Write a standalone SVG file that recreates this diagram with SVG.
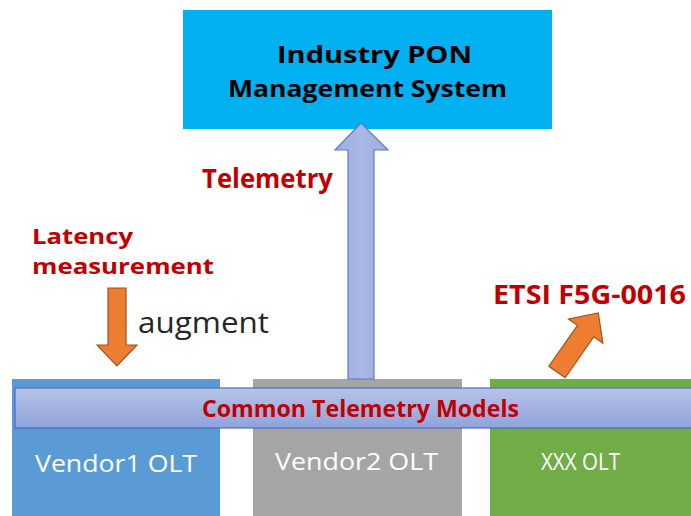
<svg xmlns="http://www.w3.org/2000/svg" width="691" height="516" viewBox="0 0 691 516">
<defs>
<linearGradient id="bandG" x1="0" y1="0" x2="0" y2="1">
<stop offset="0" stop-color="#B7C3E8"/>
<stop offset="1" stop-color="#8FA3DB"/>
</linearGradient>
<linearGradient id="arrG" x1="0" y1="0" x2="1" y2="0">
<stop offset="0" stop-color="#9FB0E0"/>
<stop offset="0.5" stop-color="#A9B8E4"/>
<stop offset="1" stop-color="#9CAEDF"/>
</linearGradient>
</defs>
<style>
.red{font-family:"Open Sans","Noto Sans","Liberation Sans",sans-serif;font-weight:bold;fill:#C00000}
.olt{font-family:"Open Sans","Noto Sans","Liberation Sans",sans-serif;fill:#FFFFFF;font-size:24px}
.ttl{font-family:"Open Sans","Noto Sans","Liberation Sans",sans-serif;font-weight:bold;font-size:24px;fill:#000000}
.orange{fill:#ED7D31;stroke:#9E531F;stroke-width:1.2}
</style>
<rect width="691" height="516" fill="#FFFFFF"/>
<g id="ipms">
<rect x="183" y="10" width="369" height="119" fill="#00B0F0"/>
<text class="ttl" x="277" y="63" textLength="195" lengthAdjust="spacingAndGlyphs">Industry PON</text>
<text class="ttl" x="228" y="97" textLength="279" lengthAdjust="spacingAndGlyphs">Management System</text>
</g>
<g id="vendor1">
<rect x="12" y="379" width="208" height="137" fill="#5B9BD5"/>
<text class="olt" x="35" y="472" textLength="162" lengthAdjust="spacingAndGlyphs">Vendor1 OLT</text>
</g>
<g id="vendor2">
<rect x="253" y="379" width="209" height="137" fill="#A5A5A5"/>
<text class="olt" x="275" y="470" textLength="163" lengthAdjust="spacingAndGlyphs">Vendor2 OLT</text>
</g>
<g id="xxx">
<rect x="490" y="379" width="201" height="137" fill="#70AD47"/>
<text class="olt" x="541" y="470" textLength="79" lengthAdjust="spacingAndGlyphs">XXX OLT</text>
</g>
<g id="connectors">
<path d="M348,379 L348,150 L335,150 L361,123 L388,150 L374,150 L374,379 Z" fill="url(#arrG)" stroke="#5A7BC8" stroke-width="1.2"/>
<path class="orange" d="M108,288 L126,288 L126,345 L137,345 L117,366 L97,345 L108,345 Z"/>
<g transform="translate(557,372) rotate(-55)">
<path class="orange" d="M0,-10 L50,-10 L50,-21 L72,0 L50,21 L50,10 L0,10 Z"/>
</g>
</g>
<g id="band">
<rect x="15" y="388" width="680" height="40" fill="url(#bandG)" stroke="#4A6DC0" stroke-width="1.2"/>
<text class="red" x="202" y="417" font-size="23" textLength="317" lengthAdjust="spacingAndGlyphs">Common Telemetry Models</text>
</g>
<g id="labels">
<text class="red" x="202" y="188" font-size="26" textLength="131" lengthAdjust="spacingAndGlyphs">Telemetry</text>
<text class="red" x="32" y="244" font-size="21" textLength="101" lengthAdjust="spacingAndGlyphs">Latency</text>
<text class="red" x="32" y="274" font-size="21" textLength="182" lengthAdjust="spacingAndGlyphs">measurement</text>
<text x="138" y="333" font-family="Open Sans, Noto Sans, Liberation Sans, sans-serif" font-size="30" fill="#262626" textLength="131" lengthAdjust="spacingAndGlyphs">augment</text>
<text class="red" x="493" y="304" font-size="26" textLength="193" lengthAdjust="spacingAndGlyphs">ETSI F5G-0016</text>
</g>
</svg>
